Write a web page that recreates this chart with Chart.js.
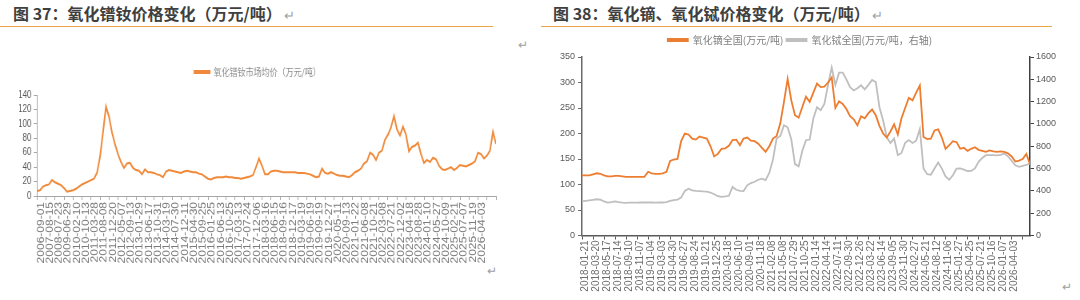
<!DOCTYPE html>
<html>
<head>
<meta charset="utf-8">
<script src="https://cdn.jsdelivr.net/npm/chart.js@4.4.1/dist/chart.umd.min.js"></script>
<style>
body{margin:0;width:1080px;height:300px;overflow:hidden;background:#fff;font-family:"Noto Sans CJK SC",sans-serif;}
.title{position:absolute;top:1px;font-size:16px;font-weight:bold;color:#3f3f3f;white-space:nowrap;}
.title span{font-weight:normal;color:#a0a0a0;font-size:13px;margin-left:2px;}
.rule{position:absolute;top:26px;height:1px;background:#EBA446;}
.mark{position:absolute;color:#a0a0a0;font-size:12px;line-height:12px;}
#leftBox{position:absolute;left:0;top:50px;transform:scaleX(0.8);transform-origin:0 0;}
#rightBox{position:absolute;left:540px;top:25px;}
</style>
</head>
<body>
<div class="title" style="left:13px">图 37：氧化镨钕价格变化（万元/吨）<span>↵</span></div>
<div class="title" style="left:553px">图 38：氧化镝、氧化铽价格变化（万元/吨）<span>↵</span></div>
<div class="rule" style="left:0;width:493px"></div>
<div class="rule" style="left:541px;width:511px"></div>
<div class="mark" style="left:518px;top:38px">↵</div>
<div class="mark" style="left:487px;top:264px">↵</div>
<div class="mark" style="left:1062px;top:280px">↵</div>
<div id="leftBox"><canvas id="leftChart" width="644" height="250"></canvas></div>
<div id="rightBox"><canvas id="rightChart" width="520" height="275"></canvas></div>
<script>
// ---- data: 图37 氧化镨钕市场均价（万元/吨）
const leftTickLabels = ['2006-09-01','2007-08-15','2008-07-23','2009-06-29','2010-02-10','2010-10-13','2011-03-28','2011-08-08','2011-12-20','2012-05-07',
  '2012-09-13','2013-01-29','2013-06-17','2013-10-31','2014-03-19','2014-07-30','2014-12-11','2015-04-30','2015-09-25','2016-01-25',
  '2016-06-13','2016-10-25','2017-03-13','2017-07-24','2017-12-06','2018-03-16','2018-06-15','2018-09-16','2018-12-17','2019-03-19',
  '2019-06-19','2019-09-19','2019-12-27','2020-05-11','2020-09-13','2021-01-22','2021-06-08','2021-10-21','2022-03-08','2022-07-21',
  '2022-12-02','2023-04-18','2023-08-28','2024-01-10','2024-05-27','2024-10-09','2025-02-21','2025-07-07','2025-11-19','2026-04-03'];
const ndfePrice = [7,8,13,15,16,22,19,17,15,11, 6,7,8,10,13,16,18,20,22,24,
  32,54,88,124,110,88,72,58,47,39, 45,46,39,36,35,30,37,33,33,32,
  30,29,26,34,36,35,34,33,32,34, 35,34,33,33,31,30,27,24,23,25,
  26,26,26,27,26,26,25,25,24,25, 26,27,29,40,52,42,30,30,34,35,
  35,34,33,33,33,33,33,32,32,32, 31,30,28,26,27,38,32,31,33,31,
  29,28,28,27,26,29,33,35,38,45, 48,60,57,50,60,63,78,85,95,111,
  92,84,96,85,62,68,70,74,58,46, 50,47,53,51,42,37,36,38,40,36,
  39,43,42,41,43,45,48,60,58,52, 56,63,89,72];
const STEP_L = 3;

// ---- data: 图38 氧化镝 / 氧化铽 全国价格
const rightTickLabels = ['2018-01-21','2018-03-20','2018-05-17','2018-07-14','2018-09-10','2018-11-07','2019-01-04','2019-03-03','2019-04-30','2019-06-27',
  '2019-08-24','2019-10-21','2019-12-25','2020-03-18','2020-06-10','2020-09-01','2020-11-18','2021-02-08','2021-05-08','2021-07-29',
  '2021-10-25','2022-01-14','2022-04-14','2022-07-11','2022-09-30','2022-12-26','2023-03-22','2023-06-14','2023-09-05','2023-11-30',
  '2024-02-27','2024-05-21','2024-08-12','2024-11-06','2025-01-27','2025-04-25','2025-07-21','2025-10-16','2026-01-07','2026-04-03'];
const dyPrice = [118,118,118,120,122,121,118,116,116,117, 117,116,115,115,115,115,115,115,125,122,
  121,121,122,125,146,149,150,185,200,198, 190,188,194,192,190,175,155,160,170,171,
  176,187,188,177,190,192,186,185,180,172, 164,175,190,195,220,262,307,265,236,231,
  252,272,262,280,298,291,292,300,310,250, 263,258,248,234,228,216,234,230,240,247,
  236,215,200,192,204,218,198,230,250,270, 265,280,294,193,189,190,206,208,192,170,
  177,185,183,170,172,166,170,173,168,166, 164,167,165,164,165,164,161,155,145,147,
  150,160,140];
const tbPrice = [305,310,315,320,325,322,305,295,300,306, 300,295,293,294,295,295,296,296,297,296,
  295,296,296,300,310,318,322,340,400,420, 405,400,398,395,393,385,370,352,346,350,
  356,435,410,400,398,450,470,482,500,510, 497,560,680,870,892,988,970,860,640,620,
  760,854,860,1050,1150,1123,1180,1350,1505,1350, 1460,1460,1400,1330,1300,1320,1346,1310,1350,1395,
  1376,1150,1030,880,830,869,720,740,830,855, 830,850,955,600,550,545,601,655,600,530,
  500,540,600,601,590,578,580,601,660,695, 720,720,720,718,722,735,710,670,630,616,
  625,632,645];
const STEP_R = 3;

Chart.defaults.font.family = '"Liberation Sans", Arial, sans-serif';
Chart.defaults.plugins.tooltip.enabled = false;
Chart.defaults.animation = false;

// legend gap: push the plot area a little further below the legend
function legendGap(extra) {
    return {
        id: 'legendGap',
        beforeInit(chart) {
            const fit = chart.legend.fit;
            chart.legend.fit = function () {
                fit.bind(chart.legend)();
                this.height += extra;
            };
        },
    };
}

const toPoints = (arr) => arr.map((v, i) => ({ x: i, y: v }));
const plain = (v) => String(v);

new Chart(document.getElementById('leftChart'), {
    type: 'line',
    data: {
        datasets: [{
            label: '氧化镨钕市场均价（万元/吨）',
            data: toPoints(ndfePrice),
            borderColor: '#F08A3A',
            backgroundColor: '#F08A3A',
            borderWidth: 2,
            pointRadius: 0,
        }],
    },
    plugins: [legendGap(8)],
    options: {
        responsive: false,
        layout: { padding: { top: 13, right: 24, bottom: 24, left: 24 } },
        plugins: {
            legend: {
                labels: {
                    boxWidth: 19, boxHeight: 2, padding: 4, color: '#8c8c8c',
                    font: { family: '"Noto Sans CJK SC"', size: 10 },
                },
            },
        },
        scales: {
            x: {
                type: 'linear', min: 0, max: ndfePrice.length - 1,
                afterFit: (s) => { s.height = 80; },
                grid: { display: true, drawOnChartArea: false, drawTicks: true, tickLength: 4, color: '#a6a6a6' },
                border: { display: true, color: '#a6a6a6' },
                ticks: {
                    stepSize: STEP_L, includeBounds: false, autoSkip: false,
                    maxRotation: 90, minRotation: 90, labelOffset: 5, padding: 2,
                    color: '#7a7a7a', font: { size: 12 },
                    callback: (v) => leftTickLabels[v / STEP_L] ?? '',
                },
            },
            y: {
                min: 0, max: 140,
                afterFit: (s) => { s.width = 22.25; },
                grid: { display: true, drawOnChartArea: false, drawTicks: true, tickLength: 4, color: '#a6a6a6' },
                border: { display: true, color: '#a6a6a6' },
                ticks: { stepSize: 20, autoSkip: false, color: '#595959', font: { size: 10 }, padding: 3, callback: plain },
            },
        },
    },
});

new Chart(document.getElementById('rightChart'), {
    type: 'line',
    data: {
        datasets: [{
            label: '氧化镝全国(万元/吨)',
            data: toPoints(dyPrice),
            yAxisID: 'y',
            borderColor: '#ED7D31',
            backgroundColor: '#ED7D31',
            borderWidth: 1.8,
            pointRadius: 0,
        }, {
            label: '氧化铽全国(万元/吨，右轴)',
            data: toPoints(tbPrice),
            yAxisID: 'y1',
            borderColor: '#BFBFBF',
            backgroundColor: '#BFBFBF',
            borderWidth: 1.8,
            pointRadius: 0,
        }],
    },
    plugins: [legendGap(2)],
    options: {
        responsive: false,
        layout: { padding: { top: 7, right: 0, bottom: 4.5, left: 0 } },
        plugins: {
            legend: {
                labels: {
                    boxWidth: 20, boxHeight: 2, padding: 3, color: '#7f7f7f',
                    font: { family: '"Noto Sans CJK SC"', size: 10 },
                },
            },
        },
        scales: {
            x: {
                type: 'linear', min: 0, max: dyPrice.length - 1,
                afterFit: (s) => { s.height = 60; },
                grid: { display: true, drawOnChartArea: false, drawTicks: true, tickLength: 4, color: '#595959' },
                border: { display: true, color: '#595959', width: 1.5 },
                ticks: {
                    stepSize: STEP_R, includeBounds: false, autoSkip: false,
                    maxRotation: 90, minRotation: 90, labelOffset: 3, padding: 1,
                    color: '#6e6e6e', font: { size: 10 },
                    callback: (v) => rightTickLabels[v / STEP_R] ?? '',
                },
            },
            y: {
                position: 'left', min: 0, max: 350,
                afterFit: (s) => { s.width = 42; },
                grid: { display: true, drawOnChartArea: false, drawTicks: true, tickLength: 4, color: '#6b6b6b' },
                border: { display: true, color: '#6b6b6b', width: 1.5 },
                ticks: { stepSize: 50, autoSkip: false, color: '#595959', font: { size: 9 }, padding: 3, callback: plain },
            },
            y1: {
                position: 'right', min: 0, max: 1600,
                afterFit: (s) => { s.width = 30; },
                grid: { display: true, drawOnChartArea: false, drawTicks: true, tickLength: 4, color: '#404040' },
                border: { display: true, color: '#404040', width: 1.5 },
                ticks: { stepSize: 200, autoSkip: false, color: '#595959', font: { size: 9 }, padding: 2, callback: plain },
            },
        },
    },
});
</script>
</body>
</html>
